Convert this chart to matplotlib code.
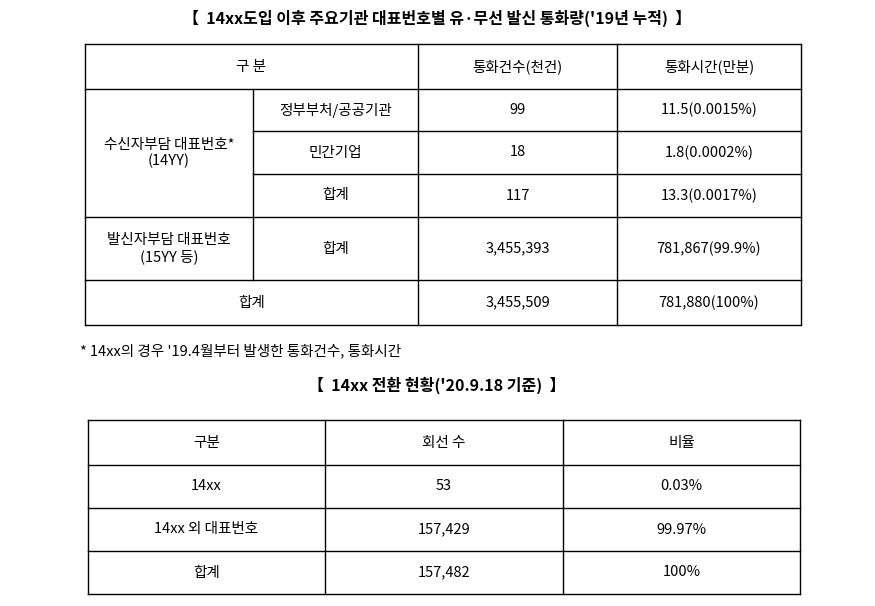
import matplotlib
matplotlib.use("Agg")
import matplotlib.pyplot as plt

plt.rcParams['font.family'] = ['Noto Sans CJK KR', 'DejaVu Sans']

title1 = "【  14xx도입 이후 주요기관 대표번호별 유·무선 발신 통화량('19년 누적)  】"
header1 = ["구 분", "통화건수(천건)", "통화시간(만분)"]
sub_labels = ["정부부처/공공기관", "민간기업", "합계", "합계"]
calls = ["99", "18", "117", "3,455,393", "3,455,509"]
minutes = ["11.5(0.0015%)", "1.8(0.0002%)", "13.3(0.0017%)", "781,867(99.9%)", "781,880(100%)"]
note = "* 14xx의 경우 '19.4월부터 발생한 통화건수, 통화시간"

title2 = "【  14xx 전환 현황('20.9.18 기준)  】"
header2 = ["구분", "회선 수", "비율"]
rows2 = ["14xx", "14xx 외 대표번호", "합계"]
lines2 = ["53", "157,429", "157,482"]
ratio2 = ["0.03%", "99.97%", "100%"]

fig = plt.figure(figsize=(8.75, 6.06), dpi=100)
ax = fig.add_axes([0, 0, 1, 1])
ax.set_xlim(0, 875)
ax.set_ylim(606, 0)
ax.axis('off')

def hl(y, x0, x1):
    ax.plot([x0, x1], [y, y], color='black', lw=1)

def vl(x, y0, y1):
    ax.plot([x, x], [y0, y1], color='black', lw=1)

def txt(x, y, s, **kw):
    ax.text(x, y, s, ha=kw.pop('ha', 'center'), va='center', fontsize=kw.pop('fs', 10.5), **kw)

# table 1
cx = [85, 253, 418, 617, 801]
ry = [44, 89, 131, 174, 217, 280, 325]
txt(437, 18, title1, fs=11.5, fontweight='bold')
hl(ry[0], cx[0], cx[4]); hl(ry[1], cx[0], cx[4])
hl(ry[2], cx[1], cx[4]); hl(ry[3], cx[1], cx[4])
hl(ry[4], cx[0], cx[4]); hl(ry[5], cx[0], cx[4]); hl(ry[6], cx[0], cx[4])
vl(cx[0], ry[0], ry[6]); vl(cx[4], ry[0], ry[6])
vl(cx[1], ry[1], ry[5])
vl(cx[2], ry[0], ry[6]); vl(cx[3], ry[0], ry[6])

txt((cx[0] + cx[2]) / 2, (ry[0] + ry[1]) / 2, header1[0])
txt((cx[2] + cx[3]) / 2, (ry[0] + ry[1]) / 2, header1[1])
txt((cx[3] + cx[4]) / 2, (ry[0] + ry[1]) / 2, header1[2])
txt((cx[0] + cx[1]) / 2, (ry[1] + ry[4]) / 2, "수신자부담 대표번호*\n(14YY)", linespacing=1.2)
txt((cx[0] + cx[1]) / 2, (ry[4] + ry[5]) / 2, "발신자부담 대표번호\n(15YY 등)", linespacing=1.2)
for i in range(4):
    yc = (ry[i + 1] + ry[i + 2]) / 2
    txt((cx[1] + cx[2]) / 2, yc, sub_labels[i])
for i in range(5):
    yc = (ry[i + 1] + ry[i + 2]) / 2
    txt((cx[2] + cx[3]) / 2, yc, calls[i])
    txt((cx[3] + cx[4]) / 2, yc, minutes[i])
txt((cx[0] + cx[2]) / 2, (ry[5] + ry[6]) / 2, "합계")

txt(80, 351, note, ha='left', fs=10.5)

# table 2
cx2 = [88, 325, 563, 800]
ry2 = [420, 465, 508, 551, 594]
txt(437, 385, title2, fs=11.5, fontweight='bold')
for y in ry2:
    hl(y, cx2[0], cx2[3])
for x in cx2:
    vl(x, ry2[0], ry2[4])
for j in range(3):
    txt((cx2[j] + cx2[j + 1]) / 2, (ry2[0] + ry2[1]) / 2, header2[j])
for i in range(3):
    yc = (ry2[i + 1] + ry2[i + 2]) / 2
    txt((cx2[0] + cx2[1]) / 2, yc, rows2[i])
    txt((cx2[1] + cx2[2]) / 2, yc, lines2[i])
    txt((cx2[2] + cx2[3]) / 2, yc, ratio2[i])

fig.savefig("out.png", dpi=100)
